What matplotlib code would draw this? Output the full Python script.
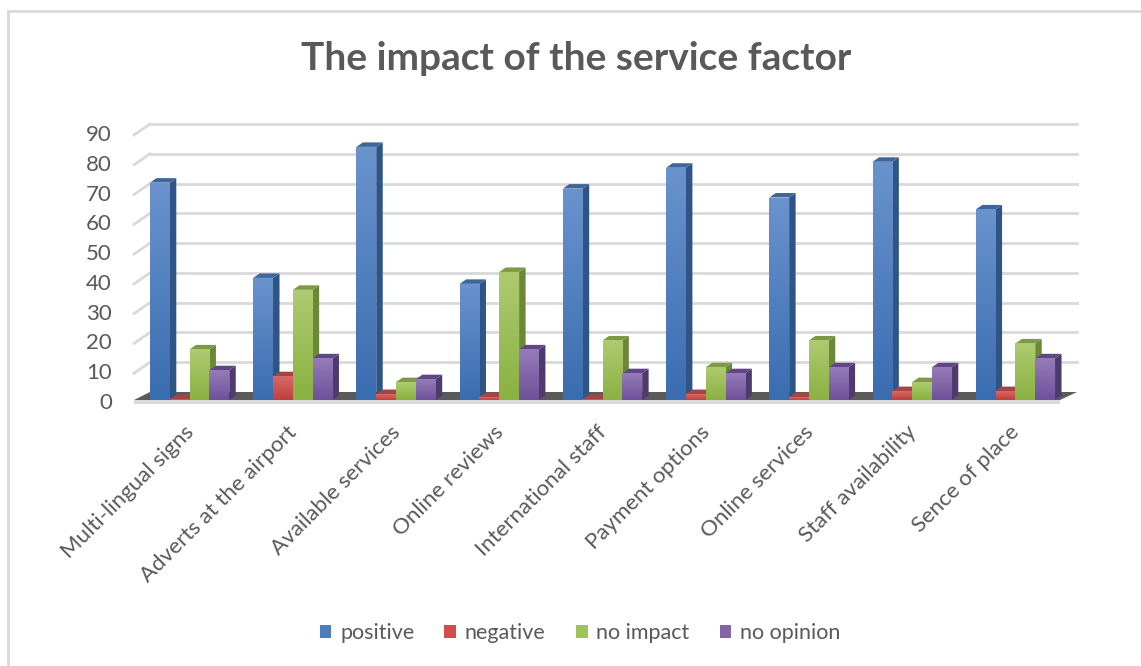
import numpy as np
import matplotlib
matplotlib.use("Agg")
import matplotlib.pyplot as plt
from matplotlib.patches import Rectangle, Polygon, Patch
from matplotlib.transforms import ScaledTranslation
from matplotlib.lines import Line2D
from matplotlib.colors import LinearSegmentedColormap

plt.rcParams['font.family'] = ['Lato', 'DejaVu Sans']

categories = ["Multi-lingual signs", "Adverts at the airport", "Available services",
              "Online reviews", "International staff", "Payment options",
              "Online services", "Staff availability", "Sence of place"]
series_names = ["positive", "negative", "no impact", "no opinion"]
positive = [73, 41, 85, 39, 71, 78, 68, 80, 64]
negative = [0.3, 8, 2, 1, 0.3, 2, 1, 3, 3]
no_impact = [17, 37, 6, 43, 20, 11, 20, 6, 19]
no_opinion = [10, 14, 7, 17, 9, 9, 11, 11, 14]
yticks = [0, 10, 20, 30, 40, 50, 60, 70, 80, 90]

series = [positive, negative, no_impact, no_opinion]
front_top = ["#6a93cd", "#d56a67", "#aecb70", "#957cb8"]
front_bot = ["#3a6db0", "#c03f3c", "#8ab142", "#6f509a"]
side_col = ["#2f5486", "#8e3231", "#6b8839", "#4f3a6e"]
top_col = ["#3f6699", "#a44544", "#7c9a44", "#5f4783"]
legend_col = ["#4a7ebf", "#cf4f4b", "#9cc45a", "#8264a8"]

W, H, DPI = 1141, 666, 100
fig = plt.figure(figsize=(W / DPI, H / DPI), dpi=DPI)

def fpoly(pts, **kw):
    fig.add_artist(Polygon([(p[0] / W, 1 - p[1] / H) for p in pts], closed=True,
                           transform=fig.transFigure, edgecolor="none", **kw))

def fline(xs, ys, **kw):
    fig.add_artist(Line2D([v / W for v in xs], [1 - v / H for v in ys],
                          transform=fig.transFigure, **kw))

# bar plane (pixel layout)
x0p, x1p = 138, 1067
y0p, y90p = 400, 132
ncat = len(categories)
ax = fig.add_axes([x0p / W, 1 - y0p / H, (x1p - x0p) / W, (y0p - y90p) / H])
ax.set_xlim(-0.5, ncat - 0.5)
ax.set_ylim(0, 90)
ax.set_axis_off()
px_x = (x1p - x0p) / ncat      # pixels per category unit
px_y = (y0p - y90p) / 90.0     # pixels per value unit

def off(dx, dy):
    return ax.transData + ScaledTranslation(dx / DPI, dy / DPI, fig.dpi_scale_trans)

# walls / floor geometry in pixels (drawn behind the axes)
ff_l, ff_r, ff_y = 134, 1060, 400      # floor front edge
fb_l, fb_r, fb_y = 150, 1077, 392      # floor back edge
back_scale = (392 - 124) / 90.0
front_scale = (403 - 135) / 90.0
grid_c = "#d9d9d9"
for t in yticks:
    yb = fb_y - t * back_scale
    yf = 403 - t * front_scale
    if t > 0:
        fline([fb_l, fb_r], [yb, yb], color=grid_c, lw=2, zorder=-2)
        fline([ff_l, fb_l], [yf, yb], color=grid_c, lw=2, zorder=-2)
    fig.text(112 / W, 1 - yf / H, str(t), ha='right', va='center', fontsize=16, color="#595959")

# floor
fpoly([(ff_l, ff_y), (ff_r, ff_y), (fb_r, fb_y), (fb_l, fb_y)], facecolor="#5a5a5a", zorder=-1)
fpoly([(ff_l, ff_y), (ff_r, ff_y), (ff_r, ff_y + 4), (ff_l, ff_y + 4)], facecolor="#d9d9d9", zorder=-1)

# bars (pseudo-3D: front face with gradient, side and top faces)
bw = 0.192
ddx, ddy = 6.5 / px_x, 4.5 / px_y
x = np.arange(ncat)
for i in range(ncat):
    for k, vals in enumerate(series):
        xc = x[i] + (k - 1.5) * bw
        h = vals[i]
        xa, xb = xc - bw / 2, xc + bw / 2
        z = 3 + i * 0.1 + k * 0.01
        side = [(xb, 0), (xb + ddx, ddy), (xb + ddx, h + ddy), (xb, h)]
        top = [(xa, h), (xb, h), (xb + ddx, h + ddy), (xa + ddx, h + ddy)]
        ax.add_patch(Polygon(side, closed=True, facecolor=side_col[k], edgecolor="none",
                             zorder=z, clip_on=False))
        ax.add_patch(Polygon(top, closed=True, facecolor=top_col[k], edgecolor="none",
                             zorder=z + 0.001, clip_on=False))
        rect = Rectangle((xa, 0), bw, h, facecolor=front_bot[k], edgecolor="none",
                         zorder=z + 0.002, clip_on=False)
        ax.add_patch(rect)
        cmap = LinearSegmentedColormap.from_list("g", [front_bot[k], front_top[k]])
        grad = np.linspace(0, 1, 64).reshape(-1, 1)
        im = ax.imshow(grad, extent=[xa, xb, 0, h], origin='lower', cmap=cmap,
                       aspect='auto', zorder=z + 0.003, interpolation='bicubic')
        im.set_clip_path(rect)

ax.set_xlim(-0.5, ncat - 0.5)
ax.set_ylim(0, 90)

# category labels
for i, c in enumerate(categories):
    ax.text(x[i], 0, c, transform=off(1, -29), rotation=45, rotation_mode='anchor',
            ha='right', va='center', fontsize=16, color="#595959")

# title
fig.text(576 / W, 1 - 58 / H, "The impact of the service factor", ha='center', va='center',
         fontsize=28, fontweight='bold', color="#595959")

# legend
handles = [Patch(facecolor=legend_col[k], edgecolor='none', label=series_names[k]) for k in range(4)]
fig.legend(handles=handles, loc='center', bbox_to_anchor=(580 / W, 1 - 633 / H), ncol=4,
           frameon=False, fontsize=15.5, handlelength=0.55, handleheight=0.55, handletextpad=0.4,
           columnspacing=1.4, labelcolor="#595959")

# chart frame
fline([8, W], [11, 11], color="#d9d9d9", lw=2, zorder=-3)
fline([8, 8], [11, H], color="#d9d9d9", lw=2, zorder=-3)

fig.savefig("out.png", dpi=DPI)
